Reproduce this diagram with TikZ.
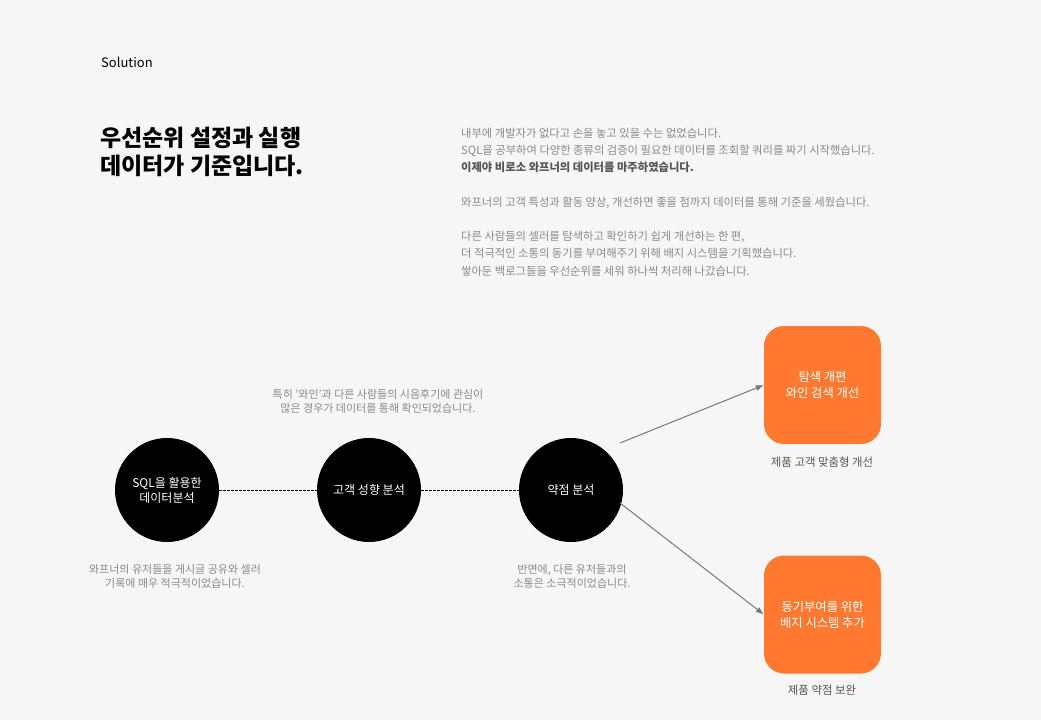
\documentclass[tikz,border=0pt]{standalone}
\usepackage{fontspec}
\setmainfont{Noto Sans CJK KR}
\usetikzlibrary{arrows.meta}
\definecolor{bg}{HTML}{F6F6F6}
\definecolor{orng}{HTML}{FF7A30}
\definecolor{bodygray}{HTML}{8A8A8A}
\definecolor{darkgray}{HTML}{555555}
\definecolor{linegray}{HTML}{777777}
\tikzset{
  circ/.style={circle, fill=black, minimum size=104pt, inner sep=0pt, text=white, font=\fontsize{12}{15}\selectfont, align=center},
  obox/.style={rounded corners=20pt, fill=orng, minimum width=117pt, minimum height=118pt, inner sep=0pt, text=white, font=\fontsize{12.3}{16}\selectfont, align=center},
  note/.style={text=bodygray, font=\fontsize{11}{14}\selectfont, align=center, inner sep=0pt},
  captext/.style={text=darkgray, font=\fontsize{11.4}{14}\selectfont, inner sep=0pt},
  para/.style={text=bodygray, font=\fontsize{11.3}{17.2}\selectfont, align=left, anchor=north west, inner sep=0pt},
  dashline/.style={dash pattern=on 2.5pt off 1.5pt, line width=0.9pt, black},
  arr/.style={-{Latex[length=8pt,width=6pt]}, linegray, line width=1pt}
}
\begin{document}
\begin{tikzpicture}[x=1pt,y=-1pt]
\fill[bg] (0,0) rectangle (1041,720);
\useasboundingbox (0,0) rectangle (1041,720);
\node[anchor=west, inner sep=0pt, font=\fontsize{13}{15}\selectfont] (sol) at (101,62) {Solution};
\node[anchor=north west, inner sep=0pt, align=left, font=\fontsize{23}{27.5}\selectfont\bfseries] (title) at (100,127) {우선순위 설정과 실행\\데이터가 기준입니다.};
\node[para] (p1) at (461,127.5) {내부에 개발자가 없다고 손을 놓고 있을 수는 없었습니다.\\SQL을 공부하여 다양한 종류의 검증이 필요한 데이터를 조회할 쿼리를 짜기 시작했습니다.\\{\color{darkgray}\bfseries 이제야 비로소 와프너의 데이터를 마주하였습니다.}};
\node[para] (p2) at (461,196.5) {와프너의 고객 특성과 활동 양상, 개선하면 좋을 점까지 데이터를 통해 기준을 세웠습니다.};
\node[para] (p3) at (461,231) {다른 사람들의 셀러를 탐색하고 확인하기 쉽게 개선하는 한 편,\\더 적극적인 소통의 동기를 부여해주기 위해 배지 시스템을 기획했습니다.\\쌓아둔 백로그들을 우선순위를 세워 하나씩 처리해 나갔습니다.};

\node[circ] (c1) at (167,490) {SQL을 활용한\\데이터분석};
\node[circ] (c2) at (369,490) {고객 성향 분석};
\node[circ] (c3) at (571,490) {약점 분석};
\draw[dashline] (c1) -- (c2);
\draw[dashline] (c2) -- (c3);

\node[note] (n2) at (378,401) {특히 '와인'과 다른 사람들의 시음후기에 관심이\\많은 경우가 데이터를 통해 확인되었습니다.};
\node[note] (n1) at (175,576) {와프너의 유저들을 게시글 공유와 셀러\\기록에 매우 적극적이었습니다.};
\node[note] (n3) at (572,576) {반면에, 다른 유저들과의\\소통은 소극적이었습니다.};

\node[obox] (b1) at (822.5,385) {탐색 개편\\와인 검색 개선};
\node[obox] (b2) at (822.5,614.5) {동기부여를 위한\\배지 시스템 추가};
\node[captext] (l1) at (822,462) {제품 고객 맞춤형 개선};
\node[captext] (l2) at (822,690) {제품 약점 보완};

\coordinate (a1s) at (620,443);
\coordinate (a2s) at (620,503);
\draw[arr] (a1s) -- (b1.west);
\draw[arr] (a2s) -- (b2.west);
\end{tikzpicture}
\end{document}
